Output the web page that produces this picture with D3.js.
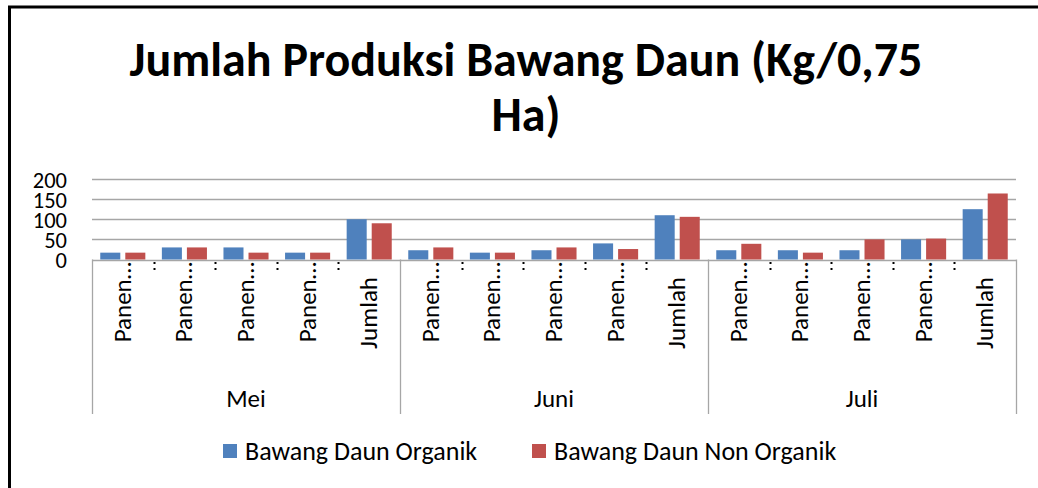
<!DOCTYPE html>
<html>
<head>
<meta charset="utf-8">
<script src="https://cdn.jsdelivr.net/npm/d3@7"></script>
<style>
  body { margin: 0; background: #fff; }
  text { font-family: Carlito, Lato, "Open Sans", sans-serif; fill: #000; }
</style>
</head>
<body>
<svg id="chart"></svg>
<script>
// data
var months = ["Mei", "Juni", "Juli"]
var items = ["Panen…", "Panen…", "Panen…", "Panen…", "Jumlah"]
var seriesNames = ["Bawang Daun Organik", "Bawang Daun Non Organik"]
var organik    = [17, 30, 30, 17, 100,  23, 17, 23, 40, 110,  23, 23, 23, 50, 125]
var nonOrganik = [17, 30, 17, 17,  90,  30, 17, 30, 26, 106,  39, 17, 50, 52, 164]
var yTicks = [0, 50, 100, 150, 200]
var titleLines = ["Jumlah Produksi Bawang Daun (Kg/0,75", "Ha)"]

var width = 1038
var height = 488
var colors = ["#4F81BD", "#C0504D"]

var svg = d3.select("#chart")
    .attr("width", width)
    .attr("height", height)

// rows: one per category (month x item)
var rows = []
months.forEach(function(m, mi) {
  items.forEach(function(it, ii) {
    var k = mi * items.length + ii
    rows.push({ key: k, month: m, item: it, values: [organik[k], nonOrganik[k]] })
  })
})

var x = d3.scaleBand()
    .domain(rows.map(d => d.key))
    .range([92, 1016])

var xs = d3.scaleBand()
    .domain([0, 1])
    .range([0, x.bandwidth()])
    .paddingInner(0.2)
    .paddingOuter(0.33)

var y = d3.scaleLinear()
    .domain([0, 200])
    .range([259.5, 179])

// frame (top and left only, as in the picture)
svg.append("line")
    .attr("x1", 8).attr("x2", width)
    .attr("y1", 7).attr("y2", 7)
    .attr("stroke", "#000").attr("stroke-width", 3)
svg.append("line")
    .attr("x1", 9.5).attr("x2", 9.5)
    .attr("y1", 6).attr("y2", height)
    .attr("stroke", "#000").attr("stroke-width", 3)

// title
svg.append("g")
    .selectAll("text")
    .data(titleLines)
    .enter()
    .append("text")
    .attr("x", 526)
    .attr("y", (d, i) => 76 + i * 55)
    .attr("text-anchor", "middle")
    .attr("font-size", 48)
    .attr("font-weight", "bold")
    .text(d => d)

// gridlines
svg.append("g")
    .selectAll("line")
    .data(yTicks)
    .enter()
    .append("line")
    .attr("x1", 92).attr("x2", 1016)
    .attr("y1", d => Math.round(y(d)) + 0.5)
    .attr("y2", d => Math.round(y(d)) + 0.5)
    .attr("stroke", "#a6a6a6")
    .attr("stroke-width", 1.3)

// y axis labels
var yAxis = svg.append("g")
    .attr("transform", "translate(69,1)")
    .call(d3.axisLeft(y).tickValues(yTicks).tickSize(0).tickPadding(2))
yAxis.select(".domain").remove()
yAxis.selectAll("text")
    .attr("font-size", 22.5)
    .attr("font-family", "Carlito, Lato, sans-serif")
    .attr("fill", "#000")

// bars
var cat = svg.append("g")
    .selectAll("g")
    .data(rows)
    .enter()
    .append("g")
    .attr("transform", d => "translate(" + x(d.key) + ",0)")

cat.selectAll("rect")
    .data(d => d.values)
    .enter()
    .append("rect")
    .attr("x", (d, i) => xs(i))
    .attr("width", xs.bandwidth())
    .attr("y", d => y(d))
    .attr("height", d => y(0) - y(d))
    .attr("fill", (d, i) => colors[i])

// category axis: group separators and short dotted ticks
var axisBottom = 414
svg.append("g")
    .selectAll("line")
    .data(d3.range(months.length + 1))
    .enter()
    .append("line")
    .attr("x1", m => Math.round(m < months.length ? x(m * items.length) : x.range()[1]) + 0.5)
    .attr("x2", m => Math.round(m < months.length ? x(m * items.length) : x.range()[1]) + 0.5)
    .attr("y1", y(0))
    .attr("y2", axisBottom)
    .attr("stroke", "#a6a6a6")
    .attr("stroke-width", 1.3)

svg.append("g")
    .selectAll("line")
    .data(rows.filter(d => d.key % items.length !== 0))
    .enter()
    .append("line")
    .attr("x1", d => Math.round(x(d.key)) + 0.5)
    .attr("x2", d => Math.round(x(d.key)) + 0.5)
    .attr("y1", 262)
    .attr("y2", 271)
    .attr("stroke", "#000")
    .attr("stroke-width", 2)
    .attr("stroke-dasharray", "2,4")

// rotated item labels
svg.append("g")
    .selectAll("text")
    .data(rows)
    .enter()
    .append("text")
    .attr("transform", function(d) {
      var top = d.item.endsWith("…") ? 262 : 277
      return "translate(" + (x(d.key) + x.bandwidth() / 2 + 8) + "," + top + ") rotate(-90)"
    })
    .attr("text-anchor", "end")
    .attr("font-size", 25)
    .text(d => d.item)

// month labels
svg.append("g")
    .selectAll("text")
    .data(months)
    .enter()
    .append("text")
    .attr("x", (m, i) => x(i * items.length) + x.bandwidth() * items.length / 2)
    .attr("y", 407)
    .attr("text-anchor", "middle")
    .attr("font-size", 25)
    .text(m => m)

// legend
var legendX = [223, 532]
var legend = svg.append("g")
    .selectAll("g")
    .data(seriesNames)
    .enter()
    .append("g")
    .attr("transform", (d, i) => "translate(" + legendX[i] + ",444)")
legend.append("rect")
    .attr("width", 14).attr("height", 14)
    .attr("fill", (d, i) => colors[i])
legend.append("text")
    .attr("x", 22)
    .attr("y", 16)
    .attr("font-size", 26)
    .text(d => d)
</script>
</body>
</html>
